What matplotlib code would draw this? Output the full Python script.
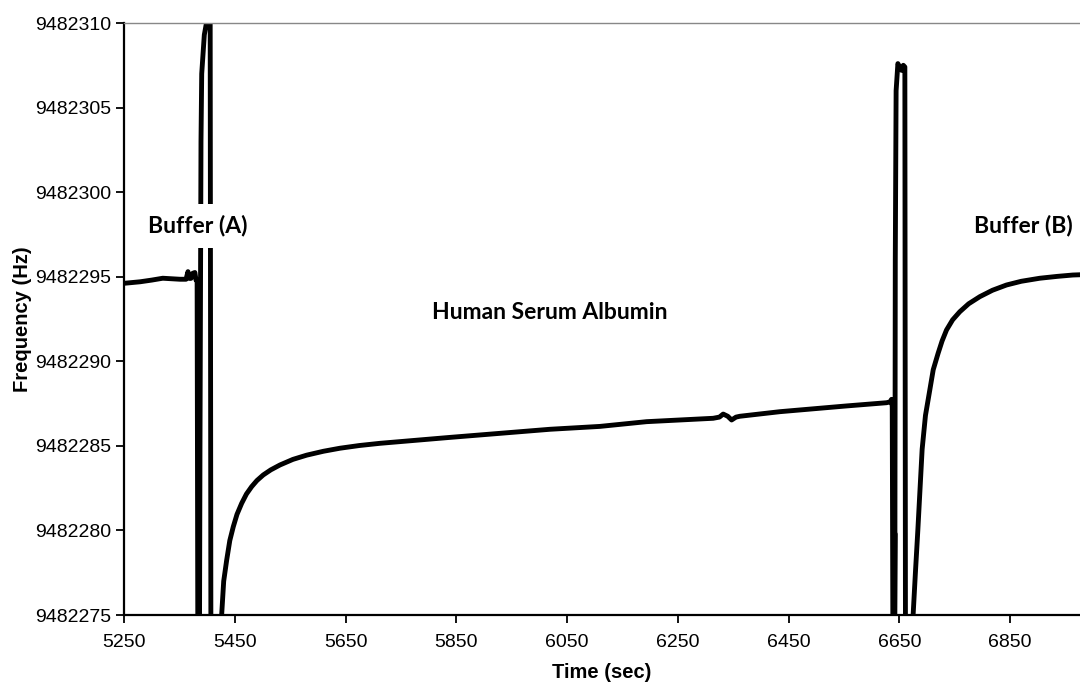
import matplotlib
matplotlib.use('Agg')
import matplotlib.pyplot as plt
import numpy as np
from matplotlib.ticker import FormatStrFormatter

# trace: time (sec) and frequency (Hz)
# values outside the axis range stand for the parts that run off the chart
time_a = [5250, 5279, 5300, 5320, 5351, 5362, 5365.5, 5368, 5371, 5374, 5378, 5380, 5382,
          5383.5, 5386, 5387.2, 5388, 5389, 5390.3, 5395, 5401.6, 5404, 5405.5, 5407]
freq_a = [9482294.61, 9482294.7, 9482294.8, 9482294.91, 9482294.85, 9482294.85, 9482295.3,
          9482294.9, 9482294.9, 9482295.2, 9482295.25, 9482294.8, 9482294.8,
          9482270, 9482270, 9482285, 9482293, 9482303, 9482307, 9482309.3, 9482310.5,
          9482313, 9482313, 9482270]

time_hsa = [5424, 5426.3, 5430, 5435.4, 5441, 5447.3, 5454, 5462.4, 5471, 5480.5, 5490,
            5501.4, 5515, 5531.6, 5555, 5579.8, 5610, 5639.9, 5675, 5712.1, 5748.2, 5838.4,
            5928.7, 6019.0, 6109.2, 6193.5, 6313.7, 6325, 6331.8, 6340, 6347, 6355, 6362,
            6434.1, 6554.5, 6626.7, 6633, 6635.7]
freq_hsa = [9482270, 9482275, 9482277, 9482278.25, 9482279.4, 9482280.22, 9482280.95,
            9482281.6, 9482282.15, 9482282.59, 9482282.95, 9482283.28, 9482283.58,
            9482283.87, 9482284.2, 9482284.45, 9482284.68, 9482284.86, 9482285.02,
            9482285.15, 9482285.25, 9482285.5, 9482285.74, 9482285.98, 9482286.15,
            9482286.43, 9482286.63, 9482286.7, 9482286.88, 9482286.75, 9482286.53,
            9482286.7, 9482286.75, 9482287.02, 9482287.36, 9482287.55, 9482287.6,
            9482287.75]

time_b = [6637, 6638.5, 6640, 6641, 6642, 6640.5, 6641.5, 6642.5, 6644, 6647.2, 6650,
          6653.8, 6657, 6659.8, 6661, 6672]
freq_b = [9482287.3, 9482270, 9482270, 9482279.8, 9482279.8, 9482270, 9482270, 9482296,
          9482306, 9482307.6, 9482307.4, 9482307.2, 9482307.5, 9482307.4, 9482270, 9482270]

time_rec = [6672, 6674.7, 6679, 6683.2, 6691, 6697, 6704.8, 6711, 6719.8, 6727, 6735.0,
            6746, 6759.0, 6775, 6795.1, 6818, 6843.3, 6870, 6903.4, 6935, 6963.0, 6980]
freq_rec = [9482270, 9482275, 9482277.6, 9482280, 9482284.8, 9482286.8, 9482288.3,
            9482289.5, 9482290.47, 9482291.2, 9482291.85, 9482292.45, 9482292.93,
            9482293.4, 9482293.82, 9482294.2, 9482294.51, 9482294.73, 9482294.91,
            9482295.02, 9482295.1, 9482295.12]

t = np.array(time_a + time_hsa + time_b + time_rec)
f = np.array(freq_a + freq_hsa + freq_b + freq_rec)

xticks = np.arange(5250, 6851, 200)
yticks = np.arange(9482275, 9482311, 5)

fig = plt.figure(figsize=(10.8, 6.86), dpi=100)
ax = fig.add_axes([124/1080, 1 - 615/686, 1 - 124/1080, (615 - 23)/686])

ax.plot(t, f, color='black', lw=3.5, solid_joinstyle='round', solid_capstyle='round')

ax.set_xlim(5250, 6976)
ax.set_ylim(9482275, 9482310)
ax.set_xticks(xticks)
ax.set_yticks(yticks)
ax.yaxis.set_major_formatter(FormatStrFormatter('%d'))

ax.spines['right'].set_visible(False)
ax.spines['top'].set_color('#888888')
ax.spines['top'].set_linewidth(1.0)
ax.spines['left'].set_linewidth(1.6)
ax.spines['bottom'].set_linewidth(1.6)
ax.tick_params(direction='out', length=6, width=1.3, labelsize=14)
ax.tick_params(axis='x', pad=8)
for lab in ax.get_xticklabels() + ax.get_yticklabels():
    lab.set_fontfamily('Liberation Sans')

ax.set_xlabel('Time (sec)', fontsize=14.5, fontweight='bold', family='Liberation Sans', labelpad=8)
ax.set_ylabel('Frequency (Hz)', fontsize=14.5, fontweight='bold', family='Liberation Sans', labelpad=2)

box = dict(facecolor='white', edgecolor='none', pad=8)
ax.text(5382.7, 9482298.0, 'Buffer (A)', fontsize=16.5, fontweight='bold', family='Lato',
        ha='center', va='center', bbox=box)
ax.text(6019, 9482292.9, 'Human Serum Albumin', fontsize=16.5, fontweight='bold', family='Lato',
        ha='center', va='center')
ax.text(6874.5, 9482298.0, 'Buffer (B)', fontsize=16.5, fontweight='bold', family='Lato',
        ha='center', va='center', bbox=box)

fig.savefig('out.png', dpi=100)
